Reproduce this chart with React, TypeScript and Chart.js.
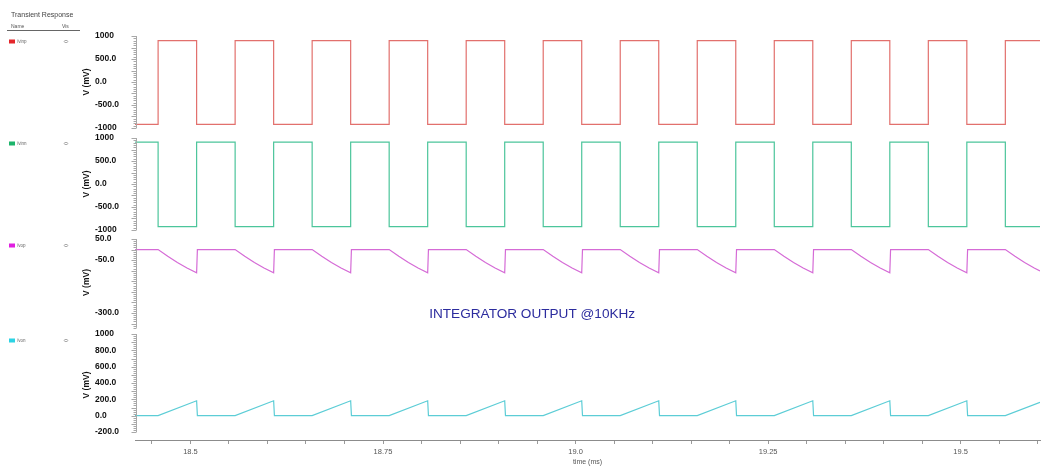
import React, { useEffect, useRef } from 'react';
import { Chart, registerables } from 'chart.js';

Chart.register(...registerables);

// ---- time axis (ms) ----
const X_MIN = 18.428;
const X_MAX = 19.603;
const xMajorTicks = [18.5, 18.75, 19.0, 19.25, 19.5];
const xMajorLabels = ['18.5', '18.75', '19.0', '19.25', '19.5'];
const xMinorStep = 0.05;

// ---- signal names ----
const seriesNames = ['/vinp', '/vinn', '/vop', '/von'];

// ---- square-wave inputs (stepped: value switches at each listed time) ----
const squareTime = [
  18.428, 18.458, 18.508, 18.558, 18.608, 18.658, 18.708, 18.758, 18.808,
  18.858, 18.908, 18.958, 19.008, 19.058, 19.108, 19.158, 19.208, 19.258,
  19.308, 19.358, 19.408, 19.458, 19.508, 19.558, 19.603,
];
const vinpMv = [
  -920, 900, -920, 900, -920, 900, -920, 900, -920, 900, -920, 900, -920,
  900, -920, 900, -920, 900, -920, 900, -920, 900, -920, 900, 900,
];
const vinnMv = [
  910, -925, 910, -925, 910, -925, 910, -925, 910, -925, 910, -925, 910,
  -925, 910, -925, 910, -925, 910, -925, 910, -925, 910, -925, -925,
];

// ---- integrator outputs ----
const vopTime = [
  18.428,
  18.458, 18.4705, 18.483, 18.4955, 18.508, 18.509,
  18.558, 18.5705, 18.583, 18.5955, 18.608, 18.609,
  18.658, 18.6705, 18.683, 18.6955, 18.708, 18.709,
  18.758, 18.7705, 18.783, 18.7955, 18.808, 18.809,
  18.858, 18.8705, 18.883, 18.8955, 18.908, 18.909,
  18.958, 18.9705, 18.983, 18.9955, 19.008, 19.009,
  19.058, 19.0705, 19.083, 19.0955, 19.108, 19.109,
  19.158, 19.1705, 19.183, 19.1955, 19.208, 19.209,
  19.258, 19.2705, 19.283, 19.2955, 19.308, 19.309,
  19.358, 19.3705, 19.383, 19.3955, 19.408, 19.409,
  19.458, 19.4705, 19.483, 19.4955, 19.508, 19.509,
  19.558, 19.5705, 19.583, 19.5955, 19.603,
];
const vopMv = [
  0,
  0, -32, -61, -87, -110, 0,
  0, -32, -61, -87, -110, 0,
  0, -32, -61, -87, -110, 0,
  0, -32, -61, -87, -110, 0,
  0, -32, -61, -87, -110, 0,
  0, -32, -61, -87, -110, 0,
  0, -32, -61, -87, -110, 0,
  0, -32, -61, -87, -110, 0,
  0, -32, -61, -87, -110, 0,
  0, -32, -61, -87, -110, 0,
  0, -32, -61, -87, -110, 0,
  0, -32, -61, -87, -101,
];

const vonTime = [
  18.428,
  18.458, 18.508, 18.509,
  18.558, 18.608, 18.609,
  18.658, 18.708, 18.709,
  18.758, 18.808, 18.809,
  18.858, 18.908, 18.909,
  18.958, 19.008, 19.009,
  19.058, 19.108, 19.109,
  19.158, 19.208, 19.209,
  19.258, 19.308, 19.309,
  19.358, 19.408, 19.409,
  19.458, 19.508, 19.509,
  19.558, 19.603,
];
const vonMv = [
  0,
  0, 182, 0,
  0, 182, 0,
  0, 182, 0,
  0, 182, 0,
  0, 182, 0,
  0, 182, 0,
  0, 182, 0,
  0, 182, 0,
  0, 182, 0,
  0, 182, 0,
  0, 182, 0,
  0, 164,
];

// ---- per-strip tick values and labels ----
const vinpTicks = [1000, 500, 0, -500, -1000];
const vinpTickLabels = ['1000', '500.0', '0.0', '-500.0', '-1000'];
const vinnTicks = [1000, 500, 0, -500, -1000];
const vinnTickLabels = ['1000', '500.0', '0.0', '-500.0', '-1000'];
const vopTicks = [50, -50, -300];
const vopTickLabels = ['50.0', '-50.0', '-300.0'];
const vonTicks = [1000, 800, 600, 400, 200, 0, -200];
const vonTickLabels = ['1000', '800.0', '600.0', '400.0', '200.0', '0.0', '-200.0'];

const annotationText = 'INTEGRATOR OUTPUT @10KHz';

// ---- styling ----
const FONT = '"Liberation Sans", Arial, Helvetica, sans-serif';
const lineColors = ['#e2706d', '#4cc59b', '#d56bd6', '#5ccdd6'];
const legendColors = ['#e4262b', '#1db46b', '#e01fe0', '#2cd3e4'];

type Strip = {
  id: string;
  min: number;
  max: number;
  height: number;
  order: number;
  ticks: number[];
  labels: string[];
  ruler: [number, number, number, number]; // from, to, minor step, major step
};

const strips: Strip[] = [
  { id: 'yVinp', min: -1108.7, max: 1108.7, height: 102, order: 4, ticks: vinpTicks, labels: vinpTickLabels, ruler: [-1000, 1000, 50, 250] },
  { id: 'yVinn', min: -1108.7, max: 1108.7, height: 102, order: 3, ticks: vinnTicks, labels: vinnTickLabels, ruler: [-1000, 1000, 50, 250] },
  { id: 'yVop', min: -380.4, max: 68.9, height: 95, order: 2, ticks: vopTicks, labels: vopTickLabels, ruler: [-370, 50, 10, 50] },
  { id: 'yVon', min: -297.9, max: 1049, height: 110, order: 1, ticks: vonTicks, labels: vonTickLabels, ruler: [-200, 1000, 25, 100] },
];

const seriesData = [
  squareTime.map((t, i) => ({ x: t, y: vinpMv[i] })),
  squareTime.map((t, i) => ({ x: t, y: vinnMv[i] })),
  vopTime.map((t, i) => ({ x: t, y: vopMv[i] })),
  vonTime.map((t, i) => ({ x: t, y: vonMv[i] })),
];

// rulers, side panel and the in-plot note
const decorations = {
  id: 'waveDecorations',
  afterDraw(chart: any) {
    const { ctx, chartArea } = chart;
    ctx.save();

    // strip rulers along the value axes
    const x0 = Math.round(chartArea.left) + 1.5;
    ctx.strokeStyle = '#a8a8a8';
    ctx.lineWidth = 1;
    strips.forEach((s) => {
      const scale = chart.scales[s.id];
      const [from, to, minor, major] = s.ruler;
      const n = Math.round((to - from) / minor);
      ctx.beginPath();
      ctx.moveTo(x0, scale.getPixelForValue(to));
      ctx.lineTo(x0, scale.getPixelForValue(from));
      for (let i = 0; i <= n; i++) {
        const v = from + i * minor;
        const y = Math.round(scale.getPixelForValue(v)) + 0.5;
        const isMajor = Math.abs(v / major - Math.round(v / major)) < 1e-6;
        ctx.moveTo(x0 - (isMajor ? 5 : 3), y);
        ctx.lineTo(x0, y);
      }
      ctx.stroke();
    });

    // side panel
    ctx.fillStyle = '#444';
    ctx.textBaseline = 'middle';
    ctx.textAlign = 'left';
    ctx.font = `7px ${FONT}`;
    ctx.fillText('Transient Response', 11, 15.5);
    ctx.font = `5px ${FONT}`;
    ctx.fillStyle = '#555';
    ctx.fillText('Name', 11, 26.5);
    ctx.fillText('Vis', 62, 26.5);
    ctx.strokeStyle = '#666';
    ctx.beginPath();
    ctx.moveTo(7, 30.5);
    ctx.lineTo(80, 30.5);
    ctx.stroke();

    strips.forEach((s, i) => {
      const y = chart.scales[s.id].top + 10.5;
      ctx.fillStyle = legendColors[i];
      ctx.fillRect(9, y - 2, 6, 4);
      ctx.fillStyle = '#666';
      ctx.font = `4.5px ${FONT}`;
      ctx.fillText(seriesNames[i], 17, y);
      ctx.strokeStyle = '#aaa';
      ctx.beginPath();
      ctx.ellipse(66, y, 1.8, 1.1, 0, 0, Math.PI * 2);
      ctx.stroke();
    });

    // note on the integrator strip
    const xs = chart.scales.x;
    const ys = chart.scales.yVop;
    ctx.fillStyle = '#2c2c9e';
    ctx.font = `13.6px ${FONT}`;
    ctx.textBaseline = 'middle';
    ctx.fillText(annotationText, xs.getPixelForValue(18.81), ys.getPixelForValue(-305));

    ctx.restore();
  },
};

function buildConfig(): any {
  const scales: any = {
    x: {
      type: 'linear',
      position: 'bottom',
      min: X_MIN,
      max: X_MAX,
      afterBuildTicks: (scale: any) => {
        const ticks: { value: number }[] = [];
        const first = Math.ceil(X_MIN / xMinorStep - 1e-9);
        const last = Math.floor(X_MAX / xMinorStep + 1e-9);
        for (let k = first; k <= last; k++) {
          ticks.push({ value: Math.round(k * xMinorStep * 1000) / 1000 });
        }
        scale.ticks = ticks;
      },
      afterFit: (scale: any) => {
        scale.height = 28;
      },
      ticks: {
        autoSkip: false,
        maxRotation: 0,
        minRotation: 0,
        padding: 3,
        color: '#555',
        font: { family: FONT, size: 7.5 },
        callback: (v: number) => {
          const i = xMajorTicks.findIndex((m) => Math.abs(m - v) < 1e-6);
          return i >= 0 ? xMajorLabels[i] : '';
        },
      },
      grid: { display: true, drawOnChartArea: false, drawTicks: true, tickLength: 4, color: '#9a9a9a' },
      border: { display: true, color: '#8c8c8c', width: 1 },
      title: {
        display: true,
        text: 'time (ms)',
        color: '#555',
        font: { family: FONT, size: 7 },
        padding: { top: 0, bottom: 2 },
      },
    },
  };

  strips.forEach((s) => {
    scales[s.id] = {
      type: 'linear',
      position: 'left',
      stack: 'strips',
      stackWeight: s.height,
      weight: s.order,
      min: s.min,
      max: s.max,
      afterBuildTicks: (scale: any) => {
        scale.ticks = s.ticks.map((v) => ({ value: v }));
      },
      afterFit: (scale: any) => {
        scale.width = 40;
      },
      ticks: {
        autoSkip: false,
        padding: 12,
        crossAlign: 'far',
        color: '#111',
        font: { family: FONT, size: 8.5, weight: 'bold' },
        callback: (v: number) => {
          const i = s.ticks.indexOf(v);
          return i >= 0 ? s.labels[i] : '';
        },
      },
      grid: { display: false, drawTicks: false, tickLength: 0 },
      border: { display: false },
      title: {
        display: true,
        text: 'V (mV)',
        color: '#111',
        font: { family: FONT, size: 8.5, weight: 'bold' },
        padding: { top: -13, bottom: 0 },
      },
    };
  });

  return {
    type: 'line',
    data: {
      datasets: strips.map((s, i) => ({
        label: seriesNames[i],
        data: seriesData[i],
        xAxisID: 'x',
        yAxisID: s.id,
        borderColor: lineColors[i],
        borderWidth: 1.2,
        pointRadius: 0,
        fill: false,
        tension: 0,
        stepped: i < 2 ? true : false,
      })),
    },
    options: {
      animation: false,
      responsive: false,
      maintainAspectRatio: false,
      devicePixelRatio: 1,
      events: [],
      layout: { padding: { left: 95, right: 4, top: 31, bottom: 0 } },
      plugins: {
        legend: { display: false },
        tooltip: { enabled: false },
        title: { display: false },
      },
      scales,
    },
    plugins: [decorations],
  };
}

export default function App() {
  const canvasRef = useRef<HTMLCanvasElement>(null);

  useEffect(() => {
    if (!canvasRef.current) return;
    const chart = new Chart(canvasRef.current, buildConfig());
    return () => chart.destroy();
  }, []);

  return (
    <div style={{ position: 'fixed', left: 0, top: 0, width: 1044, height: 468, background: '#ffffff' }}>
      <canvas ref={canvasRef} width={1044} height={468} style={{ display: 'block', width: 1044, height: 468 }} />
    </div>
  );
}
